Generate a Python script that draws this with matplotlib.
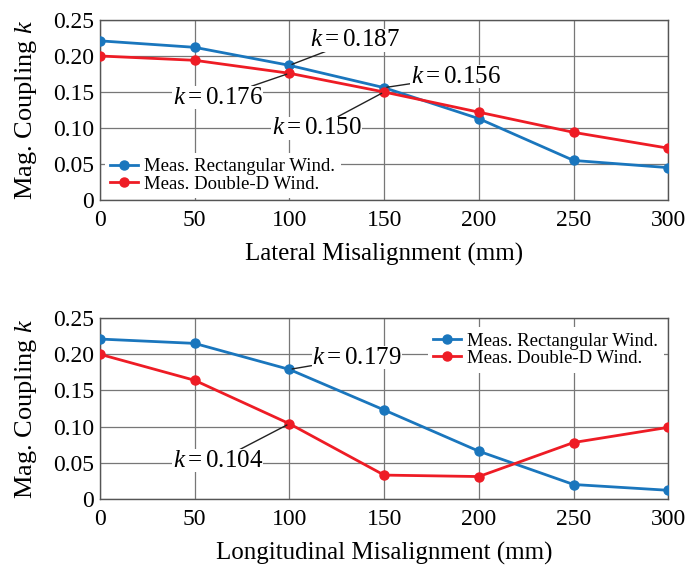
import matplotlib.pyplot as plt

plt.rcParams['font.family'] = ['Liberation Serif', 'DejaVu Serif']
plt.rcParams['mathtext.fontset'] = 'custom'
plt.rcParams['mathtext.it'] = 'Liberation Serif:italic'
plt.rcParams['mathtext.rm'] = 'Liberation Serif'

misalign = [0, 50, 100, 150, 200, 250, 300]

# lateral misalignment
lat_rect = [0.221, 0.212, 0.187, 0.156, 0.113, 0.055, 0.045]
lat_dd = [0.200, 0.194, 0.176, 0.150, 0.122, 0.094, 0.072]

# longitudinal misalignment
lon_rect = [0.221, 0.215, 0.179, 0.123, 0.066, 0.020, 0.012]
lon_dd = [0.200, 0.164, 0.104, 0.033, 0.031, 0.078, 0.099]

yticks = [0, 0.05, 0.10, 0.15, 0.20, 0.25]
ytick_labels = ['0', '0.05', '0.10', '0.15', '0.20', '0.25']

blue = '#1a76bd'
red = '#ee1c25'

fig = plt.figure(figsize=(6.89, 5.70), dpi=100)
ax1 = fig.add_axes([0.145, 0.649, 0.825, 0.316])
ax2 = fig.add_axes([0.145, 0.1246, 0.825, 0.3174])


def style(ax, xlabel):
    ax.set_xlim(0, 300)
    ax.set_ylim(0, 0.25)
    ax.set_xticks(misalign)
    ax.set_yticks(yticks)
    ax.set_yticklabels(ytick_labels)
    ax.tick_params(length=0, labelsize=17)
    ax.tick_params(axis='x', pad=7)
    ax.tick_params(axis='y', pad=4)
    ax.grid(True, color='#777777', linewidth=0.9)
    ax.set_axisbelow(True)
    for s in ax.spines.values():
        s.set_color('#555555')
        s.set_linewidth(1.0)
    ax.set_xlabel(xlabel, fontsize=18, labelpad=9)
    ax.set_ylabel('Mag. Coupling $k$', fontsize=19, labelpad=10)


def note(ax, text, xy, xytext, ha):
    ax.annotate(text, xy=xy, xytext=xytext, textcoords='data',
                fontsize=18, ha=ha, va='center', zorder=5,
                bbox=dict(boxstyle='square,pad=0.02', fc='white', ec='none'),
                arrowprops=dict(arrowstyle='-', color='#222222', lw=1.0,
                                shrinkA=0, shrinkB=2))


def legend(ax, loc, anchor):
    leg = ax.legend(loc=loc, bbox_to_anchor=anchor, fontsize=13.5,
                    frameon=True, fancybox=False, edgecolor='none',
                    framealpha=1, handlelength=1.5, borderpad=0.3,
                    borderaxespad=0.1, labelspacing=0.0, handletextpad=0.3)
    leg.set_zorder(6)


ax1.plot(misalign, lat_rect, color=blue, marker='o', ms=6.5, lw=2,
         label='Meas. Rectangular Wind.', zorder=3)
ax1.plot(misalign, lat_dd, color=red, marker='o', ms=6.5, lw=2,
         label='Meas. Double-D Wind.', zorder=3)
style(ax1, 'Lateral Misalignment (mm)')
note(ax1, '$k = 0.187$', (100, 0.187), (111, 0.222), 'left')
note(ax1, '$k = 0.176$', (100, 0.176), (86, 0.142), 'right')
note(ax1, '$k = 0.156$', (150, 0.156), (164, 0.171), 'left')
note(ax1, '$k = 0.150$', (150, 0.150), (138, 0.100), 'right')
legend(ax1, 'lower left', (0.005, 0.0))

ax2.plot(misalign, lon_rect, color=blue, marker='o', ms=6.5, lw=2,
         label='Meas. Rectangular Wind.', zorder=3)
ax2.plot(misalign, lon_dd, color=red, marker='o', ms=6.5, lw=2,
         label='Meas. Double-D Wind.', zorder=3)
style(ax2, 'Longitudinal Misalignment (mm)')
note(ax2, '$k = 0.179$', (100, 0.179), (112, 0.195), 'left')
note(ax2, '$k = 0.104$', (100, 0.104), (86, 0.0525), 'right')
legend(ax2, 'upper right', (0.995, 0.96))

fig.savefig('out.png', dpi=100)
